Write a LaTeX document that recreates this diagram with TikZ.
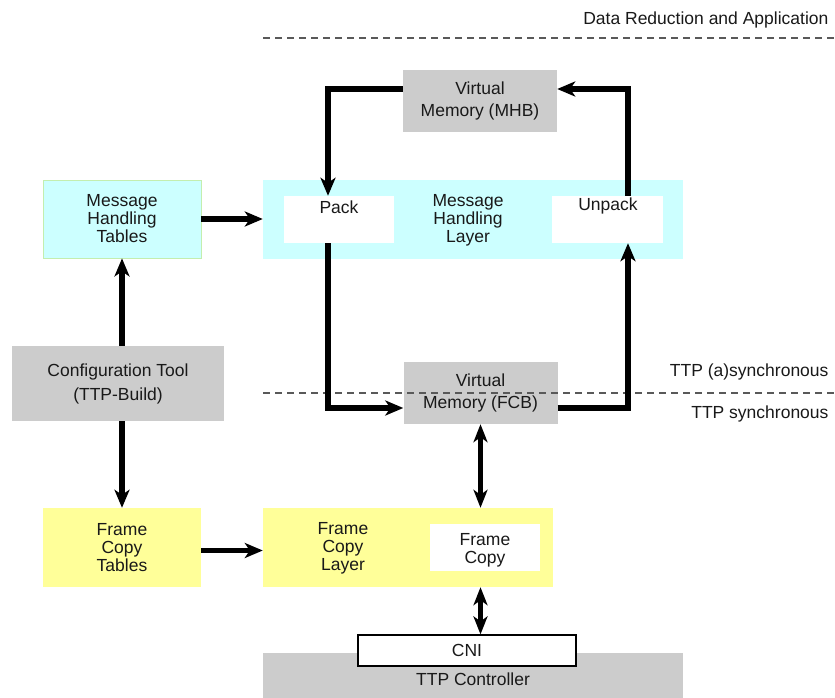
\documentclass[tikz,border=0pt]{standalone}
\usepackage{fontspec}
\setmainfont{Liberation Sans}
\usetikzlibrary{arrows.meta}
\definecolor{boxgray}{RGB}{204,204,204}
\definecolor{boxcyan}{RGB}{204,255,255}
\definecolor{boxyellow}{RGB}{255,255,153}
\definecolor{edgegreen}{RGB}{195,238,175}
\definecolor{txt}{RGB}{25,25,25}
\begin{document}
\begin{tikzpicture}[x=1pt,y=-1pt,
  every node/.style={text=txt},
  blk/.style={rectangle, inner sep=0pt, align=center},
  tight/.style={font=\fontsize{17.5}{18}\selectfont},
  loose/.style={font=\fontsize{17.5}{22}\selectfont},
  arr/.style={line width=5.5pt, -{Stealth[length=18pt,width=15pt,inset=5pt]}},
  darr/.style={line width=4.5pt, {Stealth[length=18pt,width=14pt,inset=5pt]}-{Stealth[length=18pt,width=14pt,inset=5pt]}},
  dashline/.style={draw=black!65, line width=1.1pt, dash pattern=on 7pt off 5pt}
]
\useasboundingbox (0,0) rectangle (835,698);

% dashed separators
\coordinate (d1a) at (263,38);
\coordinate (d1b) at (835,38);
\coordinate (d2a) at (263,393);
\coordinate (d2b) at (835,393);
\draw[dashline] (d1a) -- (d1b);

% right labels
\node[anchor=east, loose] (dra) at (832,20) {Data Reduction and Application};
\node[anchor=east, loose] (ttpa) at (832,372) {TTP (a)synchronous};
\node[anchor=east, loose] (ttps) at (832,414) {TTP synchronous};

% message handling layer
\node[blk, fill=boxcyan, minimum width=420, minimum height=79] (mhl) at (473,219.5) {};
\node[blk, fill=white, minimum width=110, minimum height=47] (pack) at (339,219.5) {};
\node[blk, fill=white, minimum width=111, minimum height=47] (unpack) at (607.5,219.5) {};
\node[tight] (packt) at (339,207) {Pack};
\node[tight] (unpackt) at (608,206) {Unpack};
\node[blk, tight] (mhlt) at (468,220.5) {Message\\Handling\\Layer};

% virtual memories
\node[blk, loose, fill=boxgray, minimum width=154, minimum height=62] (vmm) at (480,101) {Virtual\\Memory (MHB)};
\node[blk, loose, fill=boxgray, minimum width=154, minimum height=62] (vmf) at (480.5,393) {Virtual\\Memory (FCB)};

% dashed line over FCB box
\draw[dashline] (d2a) -- (d2b);

% left column
\node[blk, tight, fill=boxcyan, draw=edgegreen, line width=0.8pt, minimum width=158, minimum height=78] (mht) at (122,219) {Message\\Handling\\Tables};
\node[blk, fill=boxgray, font=\fontsize{17.5}{24}\selectfont, minimum width=212, minimum height=75] (cfg) at (118,383.5) {Configuration Tool\\(TTP-Build)};
\node[blk, tight, fill=boxyellow, minimum width=158, minimum height=79] (fct) at (122,547.5) {Frame\\Copy\\Tables};

% frame copy layer
\node[blk, fill=boxyellow, minimum width=290, minimum height=79] (fcl) at (408,547.5) {};
\node[blk, tight] (fclt) at (343,548.5) {Frame\\Copy\\Layer};
\node[blk, fill=white, minimum width=110, minimum height=47] (fc) at (485,547.5) {};
\node[blk, tight] (fct2) at (485,550) {Frame\\Copy};

% TTP controller and CNI
\node[blk, loose, fill=boxgray, minimum width=420, minimum height=45] (ttpc) at (473,675.5) {};
\node[loose] (ttpct) at (473,679) {TTP Controller};
\node[blk, loose, fill=white, draw=black, line width=1.2pt, minimum width=218, minimum height=31] (cni) at (467,650.5) {CNI};

% arrows
\draw[arr] (mht.east) -- (mht.east -| mhl.west);
\draw[arr] (mht.south |- cfg.north) -- (mht.south);
\draw[arr] (fct.north |- cfg.south) -- (fct.north);
\draw[arr] ([yshift=-3pt]fct.east) -- ([yshift=-3pt]fct.east -| fcl.west);

\draw[arr] ([yshift=12pt]vmm.west) -| ([xshift=-11pt]pack.north);
\draw[arr] ([xshift=-11pt]pack.south) |- ([yshift=-15pt]vmf.west);
\draw[arr] ([yshift=-15pt]vmf.east) -| ([xshift=20.5pt]unpack.south);
\draw[arr] ([xshift=20.5pt]unpack.north) |- ([yshift=12pt]vmm.east);

\draw[darr] (vmf.south) -- (vmf.south |- fcl.north);
\draw[darr] (vmf.south |- fcl.south) -- (vmf.south |- cni.north);
\end{tikzpicture}
\end{document}
